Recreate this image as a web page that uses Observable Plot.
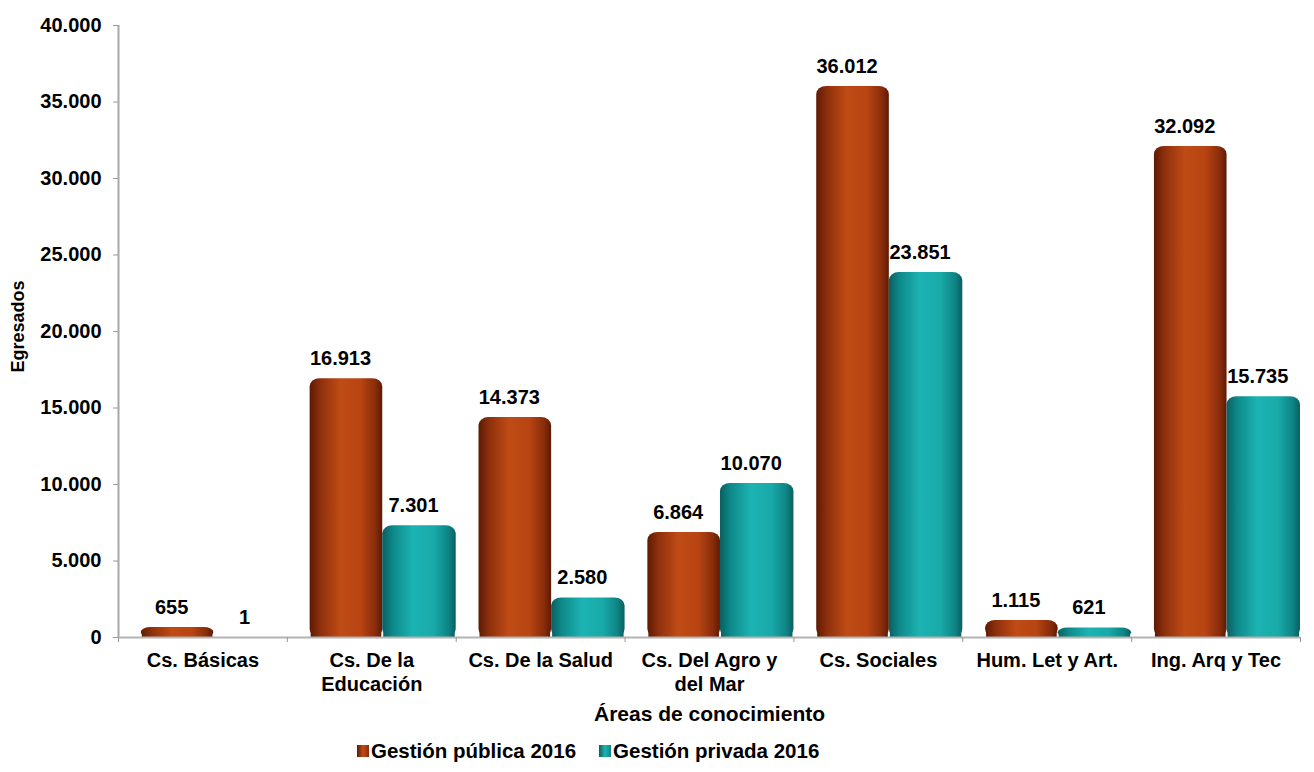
<!DOCTYPE html>
<html>
<head>
<meta charset="utf-8">
<script src="https://cdn.jsdelivr.net/npm/d3@7"></script>
<script src="https://cdn.jsdelivr.net/npm/@observablehq/plot@0.6"></script>
<style>
  body { margin: 0; background: #fff; font-family: "Liberation Sans", Arial, sans-serif; }
  #chart { width: 1314px; }
  #chart svg { display: block; }
  #legend { display: flex; align-items: center; padding-left: 357px; margin-top: 9px; height: 24px; line-height: 24px; font-weight: bold; font-size: 20.5px; color: #000; }
  .item { display: flex; align-items: center; margin-right: 23px; }
  .sw { width: 12px; height: 12px; margin-right: 2px; }
</style>
</head>
<body>
<div id="chart"></div>
<script>
const categories = ["Cs. Básicas", "Cs. De la\nEducación", "Cs. De la Salud", "Cs. Del Agro y\ndel Mar", "Cs. Sociales", "Hum. Let y Art.", "Ing. Arq y Tec"];
const series = ["Gestión pública 2016", "Gestión privada 2016"];
const publica = [655, 16913, 14373, 6864, 36012, 1115, 32092];
const privada = [1, 7301, 2580, 10070, 23851, 621, 15735];
const yTicks = [0, 5000, 10000, 15000, 20000, 25000, 30000, 35000, 40000];

const fills = ["url(#gPub)", "url(#gPriv)"];
const rows = [];
categories.forEach((c, i) => {
  rows.push({cat: c, i, s: 0, value: publica[i]});
  rows.push({cat: c, i, s: 1, value: privada[i]});
});
// position of each series inside its category slot (fractions of the slot)
const slot = [[0.135, 0.565], [0.565, 1.0]];

const fmt = d3.formatLocale({decimal: ",", thousands: ".", grouping: [3], currency: ["$", ""]}).format(",");

const svg = Plot.plot({
  width: 1314,
  height: 730,
  marginLeft: 118,
  marginRight: 14,
  marginTop: 25,
  marginBottom: 93,
  style: {fontFamily: "'Liberation Sans', Arial, sans-serif", fontWeight: "bold", fontSize: "20px", color: "#000", background: "#fff"},
  x: {type: "linear", domain: [0, categories.length], axis: null},
  y: {domain: [0, 40000], axis: null},
  marks: [
    // flat lower half (keeps the bar bottoms square)
    Plot.rectY(rows, {
      x1: d => d.i + slot[d.s][0],
      x2: d => d.i + slot[d.s][1],
      y: d => d.value / 2,
      fill: d => fills[d.s],
      insetLeft: 1, insetRight: 1
    }),
    // rounded cylinder-like bar
    Plot.rectY(rows, {
      x1: d => d.i + slot[d.s][0],
      x2: d => d.i + slot[d.s][1],
      y: "value",
      fill: d => fills[d.s],
      rx: 10, ry: 8
    }),
    Plot.ruleX([0], {stroke: "#a8a8a8", strokeWidth: 2}),
    Plot.ruleY([0], {stroke: "#b4b4b4", strokeWidth: 2}),
    Plot.axisY({ticks: yTicks, tickFormat: fmt, tickSize: 5, tickPadding: 12, stroke: "#999", fill: "#000", fontSize: 20, fontWeight: "bold", label: null}),
    Plot.axisX({ticks: d3.range(categories.length + 1), tickFormat: () => "", tickSize: 5, stroke: "#999", label: null}),
    Plot.axisX({ticks: categories.map((c, i) => i + 0.5), tickFormat: d => categories[Math.floor(d)], tickSize: 0, tickPadding: 12, fill: "#000", fontSize: 20, fontWeight: "bold", lineHeight: 1.2, label: null}),
    Plot.text(rows, {
      x: d => d.i + (slot[d.s][0] + slot[d.s][1]) / 2,
      y: "value",
      text: d => fmt(d.value),
      dy: -20, dx: -6,
      fill: "#000", fontSize: 20, fontWeight: "bold"
    }),
    Plot.text(["Áreas de conocimiento"], {frameAnchor: "bottom", lineAnchor: "middle", dy: 77, fontSize: 21, fontWeight: "bold", fill: "#000"}),
    Plot.text(["Egresados"], {frameAnchor: "left", textAnchor: "middle", rotate: -90, dx: -100, dy: -5, fontSize: 18, fontWeight: "bold", fill: "#000"})
  ]
});

// gradients for the cylinder-like bars
const defs = d3.select(svg).insert("defs", ":first-child");
const grads = [
  {id: "gPub", stops: [[0, "#5e1a04"], [0.15, "#8e300c"], [0.42, "#bf4b16"], [0.7, "#b84512"], [0.9, "#8a2d0b"], [1, "#5e1a04"]]},
  {id: "gPriv", stops: [[0, "#0a5f60"], [0.15, "#0e8a8b"], [0.42, "#1cb3b2"], [0.7, "#18aaa9"], [0.9, "#0f8485"], [1, "#0a5f60"]]}
];
grads.forEach(g => {
  const lg = defs.append("linearGradient").attr("id", g.id).attr("x1", "0").attr("x2", "1").attr("y1", "0").attr("y2", "0");
  g.stops.forEach(([o, c]) => lg.append("stop").attr("offset", o).attr("stop-color", c));
});

const chart = document.getElementById("chart");
chart.appendChild(svg);

const legend = document.createElement("div");
legend.id = "legend";
const swatchBg = ["linear-gradient(90deg,#5e1a04,#c04c17,#8a2d0b)", "linear-gradient(90deg,#0a5f60,#1cb3b2,#0f8485)"];
series.forEach((s, k) => {
  const it = document.createElement("div");
  it.className = "item";
  const sw = document.createElement("div");
  sw.className = "sw";
  sw.style.background = swatchBg[k];
  const tx = document.createElement("span");
  tx.textContent = s;
  it.appendChild(sw);
  it.appendChild(tx);
  legend.appendChild(it);
});
chart.appendChild(legend);
</script>
</body>
</html>
